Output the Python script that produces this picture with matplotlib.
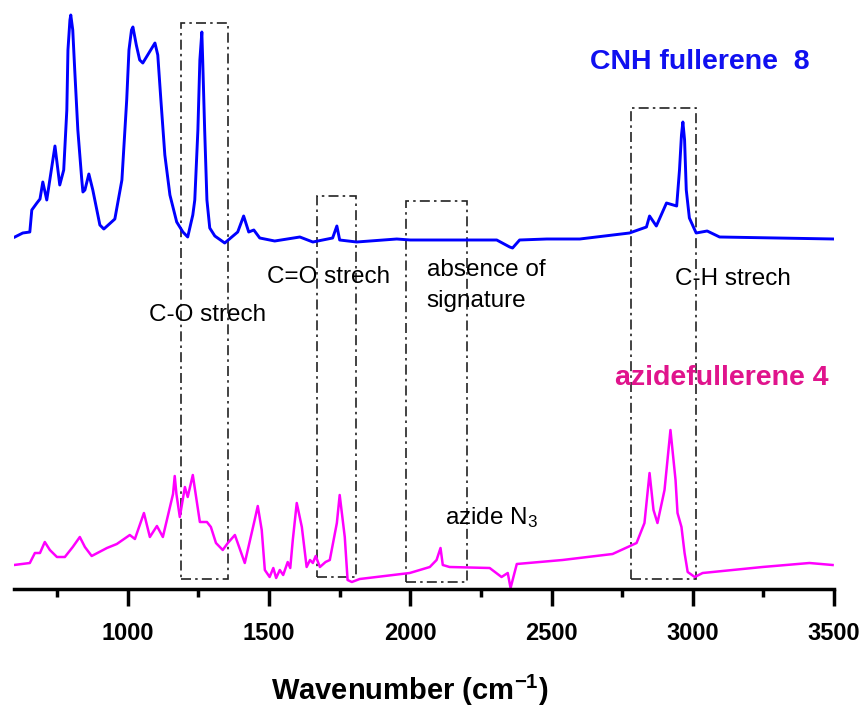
import matplotlib.pyplot as plt
from matplotlib.patches import Rectangle

# IR spectra, wavenumber (cm-1) vs absorbance (a.u.)
cnh_wn = [600, 628, 653, 660, 678, 689, 699, 713, 742, 759, 773, 784, 788, 795, 798,
          805, 812, 823, 837, 841, 848, 862, 876, 901, 915, 954, 979, 996, 1004, 1013,
          1018, 1030, 1042, 1053, 1096, 1106, 1117, 1131, 1149, 1173, 1195, 1212, 1230,
          1237, 1248, 1255, 1262, 1265, 1272, 1280, 1290, 1308, 1343, 1389, 1410, 1428,
          1446, 1467, 1520, 1609, 1655, 1725, 1740, 1750, 1810, 1952, 2000, 2306, 2352,
          2362, 2387, 2483, 2600, 2776, 2836, 2847, 2871, 2907, 2943, 2953, 2960, 2965,
          2971, 2977, 2988, 3012, 3051, 3095, 3500]
cnh_abs = [3.52, 3.56, 3.57, 3.79, 3.86, 3.90, 4.07, 3.89, 4.43, 4.04, 4.19, 4.79, 5.39,
           5.69, 5.74, 5.59, 5.19, 4.59, 4.09, 3.97, 3.99, 4.15, 3.99, 3.64, 3.60, 3.70,
           4.09, 4.89, 5.39, 5.59, 5.62, 5.44, 5.29, 5.26, 5.46, 5.34, 4.89, 4.34, 3.94,
           3.67, 3.57, 3.52, 3.74, 3.89, 4.59, 5.29, 5.57, 5.29, 4.59, 3.89, 3.61, 3.53,
           3.46, 3.57, 3.73, 3.57, 3.59, 3.51, 3.48, 3.52, 3.47, 3.51, 3.63, 3.49, 3.47,
           3.50, 3.49, 3.49, 3.42, 3.41, 3.49, 3.50, 3.50, 3.56, 3.62, 3.73, 3.63, 3.86,
           3.83, 4.19, 4.54, 4.67, 4.49, 3.99, 3.71, 3.56, 3.58, 3.52, 3.50]

azide_wn = [597, 653, 671, 689, 706, 724, 749, 777, 805, 830, 848, 872, 926, 961, 1007,
            1025, 1057, 1078, 1103, 1124, 1160, 1166, 1172, 1184, 1202, 1212, 1230, 1255,
            1280, 1294, 1312, 1336, 1354, 1379, 1414, 1449, 1460, 1474, 1485, 1502, 1515,
            1525, 1538, 1550, 1566, 1575, 1584, 1598, 1616, 1633, 1645, 1655, 1665, 1680,
            1700, 1715, 1740, 1750, 1768, 1778, 1793, 1821, 1998, 2069, 2093, 2107, 2115,
            2139, 2281, 2323, 2345, 2355, 2377, 2539, 2716, 2801, 2829, 2847, 2861, 2875,
            2900, 2921, 2939, 2946, 2960, 2971, 2982, 3007, 3035, 3247, 3413, 3495]
azide_abs = [0.24, 0.26, 0.36, 0.36, 0.47, 0.39, 0.32, 0.32, 0.42, 0.52, 0.42, 0.33,
             0.41, 0.45, 0.54, 0.50, 0.76, 0.52, 0.63, 0.52, 0.95, 1.13, 0.95, 0.72,
             1.02, 0.92, 1.14, 0.67, 0.67, 0.62, 0.46, 0.39, 0.46, 0.54, 0.26, 0.69,
             0.83, 0.59, 0.19, 0.12, 0.21, 0.11, 0.19, 0.14, 0.27, 0.21, 0.49, 0.86,
             0.62, 0.22, 0.29, 0.26, 0.33, 0.22, 0.27, 0.29, 0.66, 0.94, 0.52, 0.09,
             0.07, 0.10, 0.16, 0.22, 0.29, 0.41, 0.24, 0.22, 0.21, 0.12, 0.16, 0.01,
             0.25, 0.29, 0.35, 0.46, 0.66, 1.16, 0.79, 0.66, 0.99, 1.59, 1.09, 0.76,
             0.62, 0.36, 0.17, 0.12, 0.16, 0.22, 0.26, 0.24]

# highlighted regions: (start cm-1, end cm-1, top a.u.)
regions = [(1188, 1354, 5.66), (1669, 1807, 3.93), (1984, 2200, 3.88), (2780, 3013, 4.81)]
region_bottoms = [0.10, 0.12, 0.07, 0.10]

plt.rcParams['font.family'] = ['Liberation Sans', 'DejaVu Sans']
plt.rcParams['mathtext.fontset'] = 'custom'
plt.rcParams['mathtext.rm'] = 'Liberation Sans'
plt.rcParams['mathtext.it'] = 'Liberation Sans:italic'
plt.rcParams['mathtext.bf'] = 'Liberation Sans:bold'

fig = plt.figure(figsize=(8.63, 7.11), dpi=100)
ax = fig.add_axes([14 / 863, 122 / 711, 820 / 863, 589 / 711])

ax.plot(cnh_wn, cnh_abs, color='#0000ff', lw=2.1)
ax.plot(azide_wn, azide_abs, color='#ff00ff', lw=1.8)

for (x0, x1, top), bot in zip(regions, region_bottoms):
    ax.add_patch(Rectangle((x0, bot), x1 - x0, top - bot, fill=False,
                           edgecolor='#222222', lw=1.2,
                           linestyle=(0, (6, 2.5, 1.5, 2.5))))

ann = dict(fontsize=17.5, color='black', va='center', ha='left')
ax.text(1074, 2.74, 'C-O strech', **ann)
ax.text(1492, 3.12, 'C=O strech', **ann)
ax.text(2058, 3.035, 'absence of\nsignature', linespacing=1.5, **ann)
ax.text(2936, 3.10, 'C-H strech', **ann)
ax.text(2122, 0.71, 'azide N$_3$', **ann)

ax.text(2635, 5.27, 'CNH fullerene  8', fontsize=20.5, fontweight='bold',
        color='#1010f0', va='center', ha='left')
ax.text(2723, 2.11, 'azidefullerene 4', fontsize=20.5, fontweight='bold',
        color='#e0148c', va='center', ha='left')

ax.set_xlim(597, 3500)
ax.set_ylim(0, 5.89)
for s in ['left', 'right', 'top']:
    ax.spines[s].set_visible(False)
ax.spines['bottom'].set_linewidth(2.5)
ax.set_yticks([])
ax.set_xticks([1000, 1500, 2000, 2500, 3000, 3500])
ax.set_xticks([750, 1250, 1750, 2250, 2750, 3250], minor=True)
ax.tick_params(axis='x', which='major', direction='out', length=12, width=2.5,
               pad=12, labelsize=17)
ax.tick_params(axis='x', which='minor', direction='out', length=6, width=2.5)
for lab in ax.get_xticklabels():
    lab.set_fontweight('bold')

ax.set_xlabel(r'Wavenumber (cm$^{\mathbf{-1}}$)', fontsize=21, fontweight='bold')
ax.xaxis.set_label_coords((410 - 14) / 820, (589 - 690) / 589)
ax.xaxis.label.set_va('center')

fig.savefig('out.png', dpi=100)
